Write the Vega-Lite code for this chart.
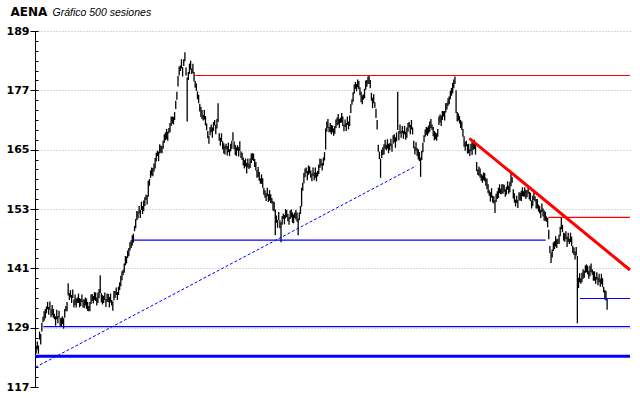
{
 "$schema": "https://vega.github.io/schema/vega-lite/v6.json",
 "width": 595, "height": 356,
 "autosize": {"type": "none"},
 "padding": {"left": 35, "top": 31, "right": 10, "bottom": 11},
 "background": "white",
 "config": {"view": {"stroke": null}},
 "datasets": {
  "price": [
{"s":1,"l":123.8,"h":125.3},{"s":2,"l":124.6,"h":126.2},{"s":3,"l":123.7,"h":125.4},{"s":4,"l":126.6,"h":128.2},{"s":5,"l":125.6,"h":127.7},{"s":6,"l":128.2,"h":130.0},{"s":7,"l":130.1,"h":131.2},{"s":8,"l":130.4,"h":132.3},{"s":9,"l":130.9,"h":132.8},{"s":10,"l":131.9,"h":133.3},
{"s":11,"l":132.7,"h":134.2},{"s":12,"l":131.6,"h":133.2},{"s":13,"l":132.6,"h":134.3},{"s":14,"l":131.1,"h":132.7},{"s":15,"l":131.5,"h":133.6},{"s":16,"l":131.0,"h":132.8},{"s":17,"l":130.7,"h":131.8},{"s":18,"l":129.4,"h":131.3},{"s":19,"l":130.7,"h":132.6},{"s":20,"l":129.9,"h":131.3},
{"s":21,"l":130.9,"h":132.4},{"s":22,"l":129.3,"h":130.9},{"s":23,"l":129.3,"h":131.0},{"s":24,"l":129.7,"h":131.3},{"s":25,"l":128.8,"h":130.9},{"s":26,"l":131.0,"h":132.8},{"s":27,"l":132.3,"h":133.4},{"s":28,"l":132.3,"h":134.2},{"s":29,"l":135.5,"h":138.0},{"s":30,"l":134.6,"h":136.0},
{"s":31,"l":135.1,"h":136.6},{"s":32,"l":134.0,"h":135.6},{"s":33,"l":135.0,"h":136.7},{"s":34,"l":133.1,"h":134.7},{"s":35,"l":133.6,"h":135.7},{"s":36,"l":133.1,"h":134.9},{"s":37,"l":134.0,"h":135.1},{"s":38,"l":134.0,"h":135.9},{"s":39,"l":133.1,"h":135.0},{"s":40,"l":133.4,"h":134.8},
{"s":41,"l":134.2,"h":135.7},{"s":42,"l":133.1,"h":134.7},{"s":43,"l":133.0,"h":134.7},{"s":44,"l":133.5,"h":135.1},{"s":45,"l":132.8,"h":134.9},{"s":46,"l":132.4,"h":134.2},{"s":47,"l":132.3,"h":133.4},{"s":48,"l":132.3,"h":134.2},{"s":49,"l":133.8,"h":135.7},{"s":50,"l":134.4,"h":135.8},
{"s":51,"l":133.9,"h":135.4},{"s":52,"l":134.6,"h":136.2},{"s":53,"l":134.4,"h":136.1},{"s":54,"l":133.5,"h":135.1},{"s":55,"l":134.0,"h":136.1},{"s":56,"l":135.0,"h":136.8},{"s":57,"l":136.0,"h":139.6},{"s":58,"l":134.1,"h":136.0},{"s":59,"l":133.7,"h":135.6},{"s":60,"l":134.0,"h":135.4},
{"s":61,"l":134.6,"h":136.1},{"s":62,"l":133.2,"h":134.8},{"s":63,"l":134.2,"h":135.9},{"s":64,"l":134.2,"h":135.8},{"s":65,"l":133.1,"h":135.2},{"s":66,"l":134.1,"h":135.9},{"s":67,"l":133.5,"h":134.6},{"s":68,"l":132.4,"h":134.3},{"s":69,"l":134.5,"h":136.4},{"s":70,"l":135.0,"h":136.4},
{"s":71,"l":135.6,"h":137.1},{"s":72,"l":134.6,"h":136.2},{"s":73,"l":135.6,"h":137.3},{"s":74,"l":136.6,"h":138.2},{"s":75,"l":137.4,"h":139.5},{"s":76,"l":138.6,"h":140.4},{"s":77,"l":139.6,"h":140.7},{"s":78,"l":140.1,"h":142.0},{"s":79,"l":141.6,"h":143.5},{"s":80,"l":142.0,"h":143.4},
{"s":81,"l":143.1,"h":144.6},{"s":82,"l":143.5,"h":145.1},{"s":83,"l":144.6,"h":146.3},{"s":84,"l":145.1,"h":146.7},{"s":85,"l":145.6,"h":147.7},{"s":86,"l":146.2,"h":148.0},{"s":87,"l":148.5,"h":149.6},{"s":88,"l":149.1,"h":151.0},{"s":89,"l":150.7,"h":152.6},{"s":90,"l":151.1,"h":152.5},
{"s":91,"l":152.1,"h":153.6},{"s":92,"l":151.2,"h":152.8},{"s":93,"l":152.8,"h":154.5},{"s":94,"l":152.0,"h":153.6},{"s":95,"l":152.6,"h":154.7},{"s":96,"l":153.6,"h":155.4},{"s":97,"l":154.8,"h":155.9},{"s":98,"l":153.9,"h":155.8},{"s":99,"l":155.5,"h":158.7},{"s":100,"l":157.7,"h":159.1},
{"s":101,"l":159.3,"h":160.8},{"s":102,"l":159.8,"h":161.4},{"s":103,"l":159.6,"h":161.3},{"s":104,"l":160.6,"h":162.2},{"s":105,"l":161.2,"h":163.3},{"s":106,"l":162.6,"h":164.4},{"s":107,"l":163.7,"h":164.8},{"s":108,"l":162.7,"h":164.6},{"s":109,"l":164.2,"h":166.1},{"s":110,"l":164.4,"h":165.8},
{"s":111,"l":164.3,"h":165.8},{"s":112,"l":165.2,"h":166.8},{"s":113,"l":166.4,"h":168.1},{"s":114,"l":166.9,"h":168.5},{"s":115,"l":167.1,"h":169.2},{"s":116,"l":166.8,"h":168.6},{"s":117,"l":168.3,"h":169.4},{"s":118,"l":168.5,"h":170.4},{"s":119,"l":169.8,"h":171.7},{"s":120,"l":170.3,"h":171.7},
{"s":121,"l":170.1,"h":171.6},{"s":122,"l":171.0,"h":172.6},{"s":123,"l":173.2,"h":174.9},{"s":124,"l":175.1,"h":176.7},{"s":125,"l":177.8,"h":179.9},{"s":126,"l":180.0,"h":181.8},{"s":127,"l":180.9,"h":182.0},{"s":128,"l":181.4,"h":183.3},{"s":129,"l":179.8,"h":181.7},{"s":130,"l":181.9,"h":183.3},
{"s":131,"l":182.9,"h":184.7},{"s":132,"l":180.0,"h":181.6},{"s":133,"l":170.7,"h":179.6},{"s":134,"l":179.1,"h":180.7},{"s":135,"l":180.3,"h":182.4},{"s":136,"l":181.2,"h":183.0},{"s":137,"l":180.3,"h":181.4},{"s":138,"l":180.5,"h":182.4},{"s":139,"l":178.8,"h":180.7},{"s":140,"l":177.5,"h":178.9},
{"s":141,"l":176.9,"h":178.4},{"s":142,"l":175.2,"h":176.8},{"s":143,"l":174.4,"h":176.1},{"s":144,"l":172.7,"h":174.3},{"s":145,"l":171.6,"h":173.7},{"s":146,"l":171.2,"h":173.0},{"s":147,"l":170.9,"h":172.0},{"s":148,"l":171.1,"h":173.0},{"s":149,"l":169.9,"h":171.8},{"s":150,"l":168.9,"h":170.3},
{"s":151,"l":167.3,"h":168.8},{"s":152,"l":166.2,"h":167.8},{"s":153,"l":167.9,"h":169.6},{"s":154,"l":168.5,"h":170.1},{"s":155,"l":167.4,"h":169.5},{"s":156,"l":168.8,"h":170.6},{"s":157,"l":169.9,"h":171.0},{"s":158,"l":168.1,"h":170.0},{"s":159,"l":169.3,"h":171.2},{"s":160,"l":170.6,"h":174.4},
{"s":161,"l":166.8,"h":168.3},{"s":162,"l":165.8,"h":167.4},{"s":163,"l":166.6,"h":168.3},{"s":164,"l":165.1,"h":166.7},{"s":165,"l":164.2,"h":166.3},{"s":166,"l":164.0,"h":165.8},{"s":167,"l":165.1,"h":166.2},{"s":168,"l":163.8,"h":165.7},{"s":169,"l":164.5,"h":166.4},{"s":170,"l":163.7,"h":165.1},
{"s":171,"l":164.7,"h":166.2},{"s":172,"l":165.2,"h":166.8},{"s":173,"l":166.8,"h":168.5},{"s":174,"l":165.1,"h":166.7},{"s":175,"l":163.9,"h":166.0},{"s":176,"l":163.7,"h":165.5},{"s":177,"l":164.8,"h":165.9},{"s":178,"l":163.6,"h":165.5},{"s":179,"l":164.8,"h":166.7},{"s":180,"l":163.3,"h":164.7},
{"s":181,"l":162.9,"h":164.4},{"s":182,"l":161.8,"h":163.4},{"s":183,"l":161.2,"h":162.9},{"s":184,"l":161.6,"h":163.2},{"s":185,"l":160.2,"h":162.3},{"s":186,"l":161.4,"h":163.2},{"s":187,"l":161.1,"h":162.2},{"s":188,"l":161.3,"h":163.2},{"s":189,"l":162.3,"h":164.2},{"s":190,"l":162.9,"h":164.3},
{"s":191,"l":162.7,"h":164.2},{"s":192,"l":161.5,"h":163.1},{"s":193,"l":160.8,"h":162.5},{"s":194,"l":159.3,"h":160.9},{"s":195,"l":159.4,"h":161.5},{"s":196,"l":158.7,"h":160.5},{"s":197,"l":158.1,"h":159.2},{"s":198,"l":158.1,"h":160.0},{"s":199,"l":157.3,"h":159.2},{"s":200,"l":155.9,"h":157.3},
{"s":201,"l":155.3,"h":156.8},{"s":202,"l":154.6,"h":156.2},{"s":203,"l":155.6,"h":157.3},{"s":204,"l":154.4,"h":156.0},{"s":205,"l":154.7,"h":156.8},{"s":206,"l":154.2,"h":156.0},{"s":207,"l":154.1,"h":155.2},{"s":208,"l":152.7,"h":154.6},{"s":209,"l":152.5,"h":154.4},{"s":210,"l":147.7,"h":152.9},
{"s":211,"l":150.2,"h":151.7},{"s":212,"l":149.2,"h":150.8},{"s":213,"l":150.7,"h":152.4},{"s":214,"l":149.1,"h":150.7},{"s":215,"l":146.3,"h":150.3},{"s":216,"l":149.8,"h":151.6},{"s":217,"l":151.0,"h":152.1},{"s":218,"l":149.9,"h":151.8},{"s":219,"l":151.1,"h":153.0},{"s":220,"l":151.4,"h":152.8},
{"s":221,"l":150.5,"h":152.0},{"s":222,"l":149.8,"h":151.4},{"s":223,"l":151.0,"h":152.7},{"s":224,"l":151.3,"h":152.9},{"s":225,"l":150.2,"h":152.3},{"s":226,"l":150.1,"h":151.9},{"s":227,"l":151.2,"h":152.3},{"s":228,"l":150.9,"h":152.8},{"s":229,"l":150.4,"h":152.3},{"s":230,"l":147.7,"h":151.1},
{"s":231,"l":150.8,"h":152.3},{"s":232,"l":152.0,"h":153.6},{"s":233,"l":153.5,"h":157.3},{"s":234,"l":156.7,"h":158.3},{"s":235,"l":158.2,"h":160.3},{"s":236,"l":159.4,"h":161.2},{"s":237,"l":160.3,"h":161.4},{"s":238,"l":158.8,"h":160.7},{"s":239,"l":159.9,"h":161.8},{"s":240,"l":160.2,"h":161.6},
{"s":241,"l":159.3,"h":160.8},{"s":242,"l":158.6,"h":160.2},{"s":243,"l":159.7,"h":161.4},{"s":244,"l":158.8,"h":160.4},{"s":245,"l":159.3,"h":161.4},{"s":246,"l":158.6,"h":160.4},{"s":247,"l":159.6,"h":160.7},{"s":248,"l":160.1,"h":162.0},{"s":249,"l":161.3,"h":163.2},{"s":250,"l":161.7,"h":163.1},
{"s":251,"l":160.8,"h":162.3},{"s":252,"l":161.8,"h":163.4},{"s":253,"l":162.8,"h":164.5},{"s":254,"l":165.0,"h":169.3},{"s":255,"l":168.6,"h":170.7},{"s":256,"l":169.4,"h":171.2},{"s":257,"l":168.5,"h":169.6},{"s":258,"l":168.5,"h":170.4},{"s":259,"l":168.1,"h":170.0},{"s":260,"l":168.5,"h":169.9},
{"s":261,"l":167.8,"h":169.3},{"s":262,"l":168.2,"h":169.8},{"s":263,"l":169.4,"h":171.1},{"s":264,"l":169.9,"h":171.5},{"s":265,"l":170.1,"h":172.2},{"s":266,"l":169.4,"h":171.2},{"s":267,"l":170.4,"h":171.5},{"s":268,"l":170.5,"h":172.4},{"s":269,"l":169.8,"h":171.7},{"s":270,"l":168.7,"h":170.1},
{"s":271,"l":169.6,"h":171.1},{"s":272,"l":168.8,"h":170.4},{"s":273,"l":170.0,"h":171.7},{"s":274,"l":169.1,"h":170.7},{"s":275,"l":169.8,"h":171.9},{"s":276,"l":172.4,"h":174.2},{"s":277,"l":174.1,"h":175.2},{"s":278,"l":174.7,"h":176.6},{"s":279,"l":176.3,"h":178.2},{"s":280,"l":177.3,"h":178.7},
{"s":281,"l":176.8,"h":178.3},{"s":282,"l":177.6,"h":179.2},{"s":283,"l":177.2,"h":178.9},{"s":284,"l":176.0,"h":177.6},{"s":285,"l":174.6,"h":176.7},{"s":286,"l":174.2,"h":176.0},{"s":287,"l":175.1,"h":176.2},{"s":288,"l":175.4,"h":177.3},{"s":289,"l":177.1,"h":179.0},{"s":290,"l":177.7,"h":179.1},
{"s":291,"l":178.3,"h":179.8},{"s":292,"l":178.3,"h":180.1},{"s":293,"l":177.4,"h":179.1},{"s":294,"l":174.9,"h":176.5},{"s":295,"l":173.4,"h":175.5},{"s":296,"l":174.4,"h":176.2},{"s":297,"l":173.5,"h":174.6},{"s":298,"l":171.4,"h":173.3},{"s":299,"l":169.1,"h":171.0},{"s":300,"l":164.6,"h":166.0},
{"s":301,"l":163.1,"h":164.6},{"s":302,"l":159.3,"h":163.2},{"s":303,"l":163.3,"h":165.0},{"s":304,"l":163.9,"h":165.5},{"s":305,"l":164.0,"h":166.1},{"s":306,"l":165.2,"h":167.0},{"s":307,"l":164.9,"h":166.0},{"s":308,"l":165.2,"h":167.1},{"s":309,"l":164.3,"h":166.2},{"s":310,"l":164.9,"h":166.3},
{"s":311,"l":165.7,"h":167.2},{"s":312,"l":164.6,"h":166.2},{"s":313,"l":166.2,"h":167.9},{"s":314,"l":166.5,"h":168.1},{"s":315,"l":165.4,"h":167.5},{"s":316,"l":166.7,"h":168.5},{"s":317,"l":169.0,"h":176.7},{"s":318,"l":166.9,"h":168.8},{"s":319,"l":168.2,"h":170.1},{"s":320,"l":167.4,"h":168.8},
{"s":321,"l":168.3,"h":169.8},{"s":322,"l":167.2,"h":168.8},{"s":323,"l":168.1,"h":169.8},{"s":324,"l":167.0,"h":168.6},{"s":325,"l":167.4,"h":169.5},{"s":326,"l":168.6,"h":170.4},{"s":327,"l":169.5,"h":170.6},{"s":328,"l":168.1,"h":170.0},{"s":329,"l":169.1,"h":171.0},{"s":330,"l":168.1,"h":169.5},
{"s":331,"l":165.3,"h":166.8},{"s":332,"l":164.0,"h":165.6},{"s":333,"l":164.8,"h":166.5},{"s":334,"l":163.7,"h":165.3},{"s":335,"l":163.0,"h":165.1},{"s":336,"l":162.7,"h":164.5},{"s":337,"l":159.5,"h":163.4},{"s":338,"l":162.9,"h":164.8},{"s":339,"l":164.5,"h":166.4},{"s":340,"l":166.5,"h":167.9},
{"s":341,"l":167.6,"h":169.1},{"s":342,"l":168.0,"h":169.6},{"s":343,"l":167.8,"h":169.5},{"s":344,"l":168.3,"h":169.9},{"s":345,"l":168.6,"h":170.7},{"s":346,"l":169.4,"h":171.2},{"s":347,"l":169.0,"h":170.1},{"s":348,"l":167.7,"h":169.6},{"s":349,"l":166.9,"h":168.8},{"s":350,"l":167.1,"h":168.5},
{"s":351,"l":166.8,"h":168.3},{"s":352,"l":167.6,"h":169.2},{"s":353,"l":170.0,"h":171.7},{"s":354,"l":170.5,"h":172.1},{"s":355,"l":169.8,"h":171.9},{"s":356,"l":171.0,"h":172.8},{"s":357,"l":171.7,"h":172.8},{"s":358,"l":170.9,"h":172.8},{"s":359,"l":172.5,"h":174.4},{"s":360,"l":173.1,"h":174.5},
{"s":361,"l":173.9,"h":175.4},{"s":362,"l":174.2,"h":175.8},{"s":363,"l":175.2,"h":176.9},{"s":364,"l":175.9,"h":177.5},{"s":365,"l":176.4,"h":178.5},{"s":366,"l":177.4,"h":179.2},{"s":367,"l":178.3,"h":179.8},{"s":368,"l":172.4,"h":177.0},{"s":369,"l":170.7,"h":172.6},{"s":370,"l":170.9,"h":172.3},
{"s":371,"l":170.3,"h":171.8},{"s":372,"l":169.4,"h":171.0},{"s":373,"l":169.0,"h":170.7},{"s":374,"l":167.6,"h":169.2},{"s":375,"l":165.6,"h":167.7},{"s":376,"l":164.8,"h":166.6},{"s":377,"l":165.7,"h":166.8},{"s":378,"l":164.2,"h":166.1},{"s":379,"l":164.3,"h":166.2},{"s":380,"l":163.7,"h":165.1},
{"s":381,"l":164.7,"h":166.2},{"s":382,"l":163.9,"h":166.6},{"s":383,"l":165.0,"h":166.7},{"s":384,"l":165.1,"h":167.0},{"s":385,"l":164.0,"h":166.1},{"s":386,"l":160.7,"h":162.5},{"s":387,"l":159.9,"h":161.0},{"s":388,"l":159.7,"h":161.6},{"s":389,"l":159.3,"h":161.2},{"s":390,"l":158.7,"h":160.1},
{"s":391,"l":158.3,"h":159.8},{"s":392,"l":158.8,"h":160.4},{"s":393,"l":158.6,"h":160.3},{"s":394,"l":157.7,"h":159.3},{"s":395,"l":157.0,"h":159.1},{"s":396,"l":156.2,"h":158.0},{"s":397,"l":155.7,"h":156.8},{"s":398,"l":154.5,"h":156.4},{"s":399,"l":155.3,"h":157.2},{"s":400,"l":154.3,"h":155.7},
{"s":401,"l":154.1,"h":155.6},{"s":402,"l":152.2,"h":154.8},{"s":403,"l":154.4,"h":156.1},{"s":404,"l":155.0,"h":156.6},{"s":405,"l":155.2,"h":157.3},{"s":406,"l":156.2,"h":158.0},{"s":407,"l":156.0,"h":157.1},{"s":408,"l":156.1,"h":158.0},{"s":409,"l":156.1,"h":158.0},{"s":410,"l":156.5,"h":157.9},
{"s":411,"l":155.5,"h":157.0},{"s":412,"l":155.9,"h":157.5},{"s":413,"l":156.9,"h":158.6},{"s":414,"l":156.1,"h":157.7},{"s":415,"l":156.4,"h":158.5},{"s":416,"l":157.6,"h":160.3},{"s":417,"l":158.3,"h":159.4},{"s":418,"l":155.1,"h":157.0},{"s":419,"l":154.3,"h":156.2},{"s":420,"l":153.5,"h":154.9},
{"s":421,"l":154.2,"h":155.7},{"s":422,"l":153.2,"h":154.8},{"s":423,"l":154.7,"h":156.4},{"s":424,"l":154.7,"h":156.3},{"s":425,"l":154.6,"h":156.7},{"s":426,"l":155.6,"h":157.4},{"s":427,"l":155.5,"h":156.6},{"s":428,"l":155.5,"h":157.4},{"s":429,"l":155.0,"h":156.9},{"s":430,"l":155.4,"h":156.8},
{"s":431,"l":156.1,"h":157.6},{"s":432,"l":154.9,"h":156.5},{"s":433,"l":154.6,"h":156.3},{"s":434,"l":153.1,"h":154.7},{"s":435,"l":153.6,"h":155.7},{"s":436,"l":154.8,"h":156.6},{"s":437,"l":154.5,"h":155.6},{"s":438,"l":153.1,"h":155.0},{"s":439,"l":153.1,"h":155.0},{"s":440,"l":152.5,"h":153.9},
{"s":441,"l":152.1,"h":153.6},{"s":442,"l":151.2,"h":152.8},{"s":443,"l":152.4,"h":154.1},{"s":444,"l":151.5,"h":153.1},{"s":445,"l":150.6,"h":152.7},{"s":446,"l":150.6,"h":152.4},{"s":447,"l":150.4,"h":151.5},{"s":448,"l":149.3,"h":151.2},{"s":449,"l":146.9,"h":148.8},{"s":450,"l":144.1,"h":145.5},
{"s":451,"l":142.1,"h":144.2},{"s":452,"l":143.2,"h":144.8},{"s":453,"l":144.5,"h":146.2},{"s":454,"l":144.9,"h":146.5},{"s":455,"l":145.4,"h":147.5},{"s":456,"l":145.1,"h":146.9},{"s":457,"l":145.9,"h":147.0},{"s":458,"l":145.9,"h":147.8},{"s":459,"l":147.5,"h":149.4},{"s":460,"l":148.9,"h":151.4},
{"s":461,"l":148.3,"h":149.8},{"s":462,"l":146.6,"h":148.2},{"s":463,"l":146.4,"h":148.1},{"s":464,"l":146.9,"h":148.5},{"s":465,"l":145.3,"h":147.4},{"s":466,"l":146.4,"h":148.2},{"s":467,"l":145.9,"h":147.0},{"s":468,"l":146.3,"h":148.2},{"s":469,"l":145.5,"h":147.4},{"s":470,"l":144.1,"h":145.5},
{"s":471,"l":143.7,"h":145.2},{"s":472,"l":142.8,"h":144.4},{"s":473,"l":143.6,"h":145.3},{"s":474,"l":129.9,"h":143.5},{"s":475,"l":137.0,"h":139.1},{"s":476,"l":138.2,"h":140.0},{"s":477,"l":137.9,"h":139.0},{"s":478,"l":138.2,"h":140.1},{"s":479,"l":138.9,"h":140.8},{"s":480,"l":139.1,"h":140.5},
{"s":481,"l":140.1,"h":141.6},{"s":482,"l":140.2,"h":141.8},{"s":483,"l":139.8,"h":141.5},{"s":484,"l":138.9,"h":140.5},{"s":485,"l":139.4,"h":141.5},{"s":486,"l":140.2,"h":142.0},{"s":487,"l":139.7,"h":140.8},{"s":488,"l":138.5,"h":140.4},{"s":489,"l":138.5,"h":140.4},{"s":490,"l":137.9,"h":139.3},
{"s":491,"l":138.7,"h":140.2},{"s":492,"l":137.6,"h":139.2},{"s":493,"l":138.2,"h":139.9},{"s":494,"l":137.3,"h":138.9},{"s":495,"l":137.8,"h":139.9},{"s":496,"l":137.2,"h":139.0},{"s":497,"l":136.1,"h":137.2},{"s":498,"l":134.7,"h":136.6},{"s":499,"l":134.5,"h":136.4},{"s":500,"l":132.6,"h":134.9}
  ]
 },
 "layer": [
  {
   "data": {"name": "price"},
   "mark": {"type": "rule", "color": "black", "strokeWidth": 1.3},
   "encoding": {
    "x": {"field": "s", "type": "quantitative",
          "scale": {"domain": [0, 520], "nice": false, "zero": false},
          "axis": {"title": null, "domain": false, "ticks": false, "labels": false, "grid": true,
                   "values": [125, 250, 375, 500], "gridColor": "#b0b0b0", "gridDash": [1, 2]}},
    "y": {"field": "l", "type": "quantitative",
          "scale": {"domain": [117, 189], "nice": false, "zero": false},
          "axis": {"orient": "left", "title": "AENA", "titleAngle": 0, "titleX": -25, "titleY": -16,
                   "titleAlign": "left", "titleBaseline": "alphabetic", "titleFont": "DejaVu Sans",
                   "titleFontSize": 12, "titleFontWeight": "bold", "titleColor": "black",
                   "values": [117, 129, 141, 153, 165, 177, 189],
                   "labelFont": "DejaVu Sans", "labelFontSize": 11, "labelFontWeight": "bold",
                   "labelColor": "black", "labelPadding": 1, "tickSize": 5, "tickColor": "black",
                   "domainColor": "black", "grid": true, "gridColor": "#b0b0b0", "gridDash": [1, 2],
                   "gridOpacity": {"condition": {"test": "datum.value === 117", "value": 0}, "value": 1}}},
    "y2": {"field": "h"}
   }
  },
  {
   "data": {"values": [
     {"x1": 86, "y1": 146.7, "x2": 446.3, "y2": 146.7},
     {"x1": 476.3, "y1": 134.9, "x2": 520, "y2": 134.9},
     {"x1": 7.3, "y1": 129.2, "x2": 520, "y2": 129.2}
   ]},
   "mark": {"type": "rule", "color": "#0000ff", "strokeWidth": 1.2},
   "encoding": {
    "x": {"field": "x1", "type": "quantitative", "axis": null},
    "x2": {"field": "x2"},
    "y": {"field": "y1", "type": "quantitative", "axis": null},
    "y2": {"field": "y2"}
   }
  },
  {
   "data": {"values": [{"x1": 0.5, "y1": 121.0, "x2": 333, "y2": 161.7}]},
   "mark": {"type": "rule", "color": "#0000ff", "strokeWidth": 1, "strokeDash": [3, 2]},
   "encoding": {
    "x": {"field": "x1", "type": "quantitative", "axis": null},
    "x2": {"field": "x2"},
    "y": {"field": "y1", "type": "quantitative", "axis": null},
    "y2": {"field": "y2"}
   }
  },
  {
   "data": {"values": [{"x1": 0, "y1": 123.2, "x2": 520, "y2": 123.2}]},
   "mark": {"type": "rule", "color": "#0000ff", "strokeWidth": 3},
   "encoding": {
    "x": {"field": "x1", "type": "quantitative", "axis": null},
    "x2": {"field": "x2"},
    "y": {"field": "y1", "type": "quantitative",
          "axis": {"orient": "left", "offset": -3, "domain": false, "labels": false, "grid": false,
                   "tickSize": 3, "tickColor": "black",
                   "values": [117,119,121,123,125,127,129,131,133,135,137,139,141,143,145,147,149,151,153,155,157,159,161,163,165,167,169,171,173,175,177,179,181,183,185,187,189],
                   "title": "Gráfico 500 sesiones", "titleAngle": 0, "titleX": 14, "titleY": -16,
                   "titleAlign": "left", "titleBaseline": "alphabetic", "titleFont": "Liberation Sans",
                   "titleFontSize": 10.5, "titleFontStyle": "italic", "titleFontWeight": "normal",
                   "titleColor": "black"}},
    "y2": {"field": "y2"}
   }
  },
  {
   "data": {"values": [
     {"x1": 140, "y1": 180, "x2": 520, "y2": 180},
     {"x1": 448.6, "y1": 151.3, "x2": 520, "y2": 151.3}
   ]},
   "mark": {"type": "rule", "color": "#ff0000", "strokeWidth": 1.2},
   "encoding": {
    "x": {"field": "x1", "type": "quantitative", "axis": null},
    "x2": {"field": "x2"},
    "y": {"field": "y1", "type": "quantitative", "axis": null},
    "y2": {"field": "y2"}
   }
  },
  {
   "data": {"values": [{"x1": 379.6, "y1": 167.3, "x2": 520, "y2": 140.66}]},
   "mark": {"type": "rule", "color": "#ff0000", "strokeWidth": 3},
   "encoding": {
    "x": {"field": "x1", "type": "quantitative", "axis": null},
    "x2": {"field": "x2"},
    "y": {"field": "y1", "type": "quantitative", "axis": null},
    "y2": {"field": "y2"}
   }
  }
 ],
 "resolve": {"axis": {"y": "independent"}}
}
